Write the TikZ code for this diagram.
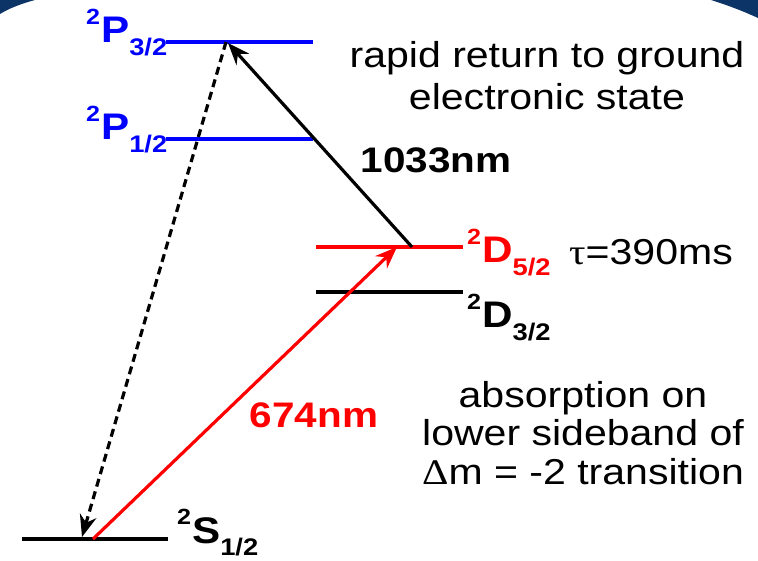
\documentclass[tikz,border=0pt]{standalone}
\usepackage{fontspec}
\setmainfont[FakeStretch=1.14]{Liberation Sans}
\newfontfamily\greekserif[FakeStretch=1.14]{Liberation Serif}
\usetikzlibrary{arrows.meta}
\definecolor{slidenavy}{RGB}{12,52,102}
\colorlet{pblue}{blue}
\colorlet{laserred}{red}
\newcommand{\term}[3]{\raisebox{0.5em}{\fontsize{22}{22}\selectfont #1}\hspace{1pt}#2\raisebox{-0.33em}{\fontsize{24}{24}\selectfont #3}}
\tikzset{
  statebar/.style={line width=4.5pt},
  termlbl/.style={font=\fontsize{37}{37}\selectfont\bfseries, inner sep=0pt, anchor=base west},
  note/.style={font=\fontsize{36}{42}\selectfont, align=center, inner sep=0pt},
  wavelbl/.style={font=\fontsize{35.5}{35.5}\selectfont\bfseries, inner sep=0pt},
  photon/.style={-{Stealth[length=22pt,width=17pt]}, line width=3.2pt},
  decay/.style={photon, dash pattern=on 8pt off 5pt},
}

\begin{document}
\begin{tikzpicture}[x=1pt,y=-1pt]
\useasboundingbox (0,0) rectangle (758,561);
% slide corners
\fill[slidenavy] (0,0) -- (35,0) .. controls (20,4) and (8,9) .. (0,14) -- cycle;
\fill[slidenavy] (711,0) .. controls (730,6) and (745,12) .. (758,18) -- (758,0) -- cycle;
% level ends
\coordinate (p3l) at (166,42);  \coordinate (p3r) at (313,42);
\coordinate (p1l) at (166,139); \coordinate (p1r) at (313,139);
\coordinate (d5l) at (316,247); \coordinate (d5r) at (463,247);
\coordinate (d3l) at (316,292); \coordinate (d3r) at (463,292);
\coordinate (s1l) at (22,539);  \coordinate (s1r) at (168,539);
% levels
\draw[statebar, pblue] (p3l) -- (p3r);
\draw[statebar, pblue] (p1l) -- (p1r);
\draw[statebar, laserred] (d5l) -- (d5r);
\draw[statebar] (d3l) -- (d3r);
\draw[statebar] (s1l) -- (s1r);
% term symbols
\node[termlbl, text=pblue] (p3lbl) at (86,43) {\term{2}{P}{3/2}};
\node[termlbl, text=pblue] (p1lbl) at (86,140) {\term{2}{P}{1/2}};
\node[termlbl, text=laserred] (d5lbl) at (467,263) {\term{2}{D}{5/2}};
\node[termlbl] (d3lbl) at (467,328) {\term{2}{D}{3/2}};
\node[termlbl] (s1lbl) at (177,543) {\term{2}{S}{1/2}};
% transitions
\coordinate (sup) at (93,539);   \coordinate (dtop) at (397,247);
\coordinate (dout) at (412,247); \coordinate (ptop) at (228,43);
\coordinate (pdn) at (226,42);   \coordinate (sdn) at (82,537);
\draw[photon, laserred] (sup) -- (dtop);
\draw[photon] (dout) -- (ptop);
\draw[decay] (pdn) -- (sdn);
% labels
\node[wavelbl] (ir) at (436,160) {1033nm};
\node[wavelbl, text=laserred] (vis) at (314,415) {674nm};
\node[note] (rapid) at (547,76) {rapid return to ground\\electronic state};
\node[note, anchor=west] (tau) at (569,252) {{\greekserif τ}=390ms};
\node[note, font=\fontsize{36}{38.5}\selectfont] (absn) at (583,433) {absorption on\\lower sideband of\\{\greekserif Δ}m = -2 transition};
\end{tikzpicture}
\end{document}
